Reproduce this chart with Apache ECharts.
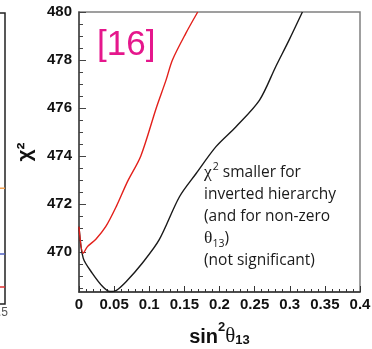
<!DOCTYPE html>
<html><head><meta charset="utf-8">
<script src="https://cdn.jsdelivr.net/npm/echarts@6/dist/echarts.min.js"></script>
<style>html,body{margin:0;padding:0;background:#fff}#c{width:372px;height:349px}</style>
</head><body><div id="c"></div>
<script>
// sin^2(theta13) vs chi^2 — normal (black) and inverted (red) hierarchy
const redS  = [0, 0.006, 0.012, 0.024, 0.038, 0.053, 0.069, 0.088, 0.110, 0.124, 0.133, 0.152, 0.169];
const redV  = [471.05, 469.94, 470.22, 470.53, 471.05, 471.89, 472.93, 474.0, 476.0, 477.17, 478.0, 479.11, 480.0];
const blackS = [0, 0.006, 0.019, 0.034, 0.044, 0.0527, 0.067, 0.090, 0.114, 0.143, 0.167, 0.195, 0.2235, 0.257, 0.280, 0.299, 0.318];
const blackV = [471.05, 469.74, 469.11, 468.55, 468.35, 468.39, 468.76, 469.53, 470.5, 472.3, 473.28, 474.39, 475.22, 476.33, 477.72, 478.83, 480.0];
const yMajorTicks = [470, 472, 474, 476, 478, 480];
const yMinorTicks = [468.5, 469, 469.5, 470.5, 471, 471.5, 472.5, 473, 473.5, 474.5, 475, 475.5, 476.5, 477, 477.5, 478.5, 479, 479.5];
// stubs of the neighbouring (cropped) plot at the left edge
const leftStubs = [
  {color: '#f0a050', y: 16.7},
  {color: '#5060c0', y: 7.2},
  {color: '#e03030', y: 2.45}
];
const leftStubX = [1.47, 1.54];

const pair = (xs, ys) => xs.map((x, i) => [x, ys[i]]);
const chart = echarts.init(document.getElementById('c'), null, {renderer: 'canvas'});
const FF = '"Liberation Sans", Arial, sans-serif';

chart.setOption({
  animation: false,
  grid: [
    {left: 79, right: 12, top: 12, bottom: 57, show: true, borderColor: '#808080', borderWidth: 1.5,
     outerBoundsMode: 'none', containLabel: false},
    {left: -200, right: 367, top: 13, height: 291, show: true, borderColor: '#222', borderWidth: 1.5,
     outerBoundsMode: 'none', containLabel: false}
  ],
  xAxis: [
    {type: 'value', gridIndex: 0, min: 0, max: 0.4, interval: 0.05,
     axisLine: {lineStyle: {color: '#333', width: 1.5}},
     axisTick: {inside: true, length: 6, lineStyle: {color: '#333'}},
     minorTick: {show: true, splitNumber: 5, length: 3, lineStyle: {color: '#333'}},
     splitLine: {show: false},
     axisLabel: {fontFamily: FF, fontWeight: 'bold', fontSize: 15, color: '#111', margin: 5,
       formatter: v => String(Math.round(v * 100) / 100)},
     name: '{a|sin}{sup|2}{g|θ}{sub|13}', nameLocation: 'middle', nameGap: 29,
     nameTextStyle: {rich: {
       a: {fontFamily: FF, fontWeight: 'bold', fontSize: 20, color: '#111', lineHeight: 26, verticalAlign: 'bottom'},
       sup: {fontFamily: FF, fontWeight: 'bold', fontSize: 13, color: '#111', lineHeight: 17, verticalAlign: 'top'},
       g: {fontFamily: '"Liberation Serif", serif', fontSize: 21, color: '#111', lineHeight: 26, verticalAlign: 'bottom'},
       sub: {fontFamily: FF, fontWeight: 'bold', fontSize: 13, color: '#111', lineHeight: 12, verticalAlign: 'bottom'}
     }}},
    {type: 'value', gridIndex: 1, min: 0, max: 1.5405, interval: 0.5,
     axisLine: {show: false}, axisTick: {show: false}, splitLine: {show: false},
     axisLabel: {fontFamily: FF, fontSize: 12, color: '#555', margin: 3, showMaxLabel: false,
       formatter: v => (Math.abs(v - 1.5) < 1e-6 ? '1.5' : '')}}
  ],
  yAxis: [
    {type: 'value', gridIndex: 0, min: 468.33, max: 480,
     axisLine: {show: true, lineStyle: {color: '#444', width: 1.5}},
     axisTick: {show: true, inside: true, length: 7, customValues: yMajorTicks, lineStyle: {color: '#444'}},
     splitLine: {show: false},
     axisLabel: {customValues: yMajorTicks, fontFamily: FF, fontWeight: 'bold', fontSize: 15, color: '#111', margin: 7},
     name: 'χ²', nameLocation: 'middle', nameGap: 43,
     nameTextStyle: {fontFamily: FF, fontWeight: 'bold', fontSize: 21, color: '#111'}},
    {type: 'value', gridIndex: 0, min: 468.33, max: 480, position: 'left',
     axisLine: {show: false},
     axisTick: {show: true, inside: true, length: 4, customValues: yMinorTicks, lineStyle: {color: '#444'}},
     axisLabel: {show: false}, splitLine: {show: false}},
    {type: 'value', gridIndex: 1, min: 0, max: 42, interval: 1, position: 'right',
     axisLine: {show: true, lineStyle: {color: '#222', width: 1.5}},
     axisTick: {inside: true, length: 4, lineStyle: {color: '#222'}},
     axisLabel: {show: false}, splitLine: {show: false}}
  ],
  graphic: [
    {type: 'text', left: 97, top: 28, style: {text: '[16]', fontFamily: FF, fontSize: 35, fill: '#e5178c'}},
    {type: 'text', left: 204, top: 162, style: {
      text: '{g|χ}{sup|2}{t| smaller for}\n{t|inverted hierarchy}\n{t|(and for non-zero}\n{g|θ}{sub|13}{t|)}\n{t|(not significant)}',
      rich: {
        t: {fontFamily: '"Open Sans", sans-serif', fontSize: 15.5, fill: '#1a1a1a', lineHeight: 21.8, verticalAlign: 'middle'},
        g: {fontFamily: '"Liberation Serif", serif', fontSize: 17.5, fill: '#1a1a1a', lineHeight: 21.8, verticalAlign: 'middle'},
        sup: {fontFamily: '"Open Sans", sans-serif', fontSize: 10.5, fill: '#1a1a1a', lineHeight: 13, verticalAlign: 'top', padding: [0, 0, 0, 1]},
        sub: {fontFamily: '"Open Sans", sans-serif', fontSize: 10.5, fill: '#1a1a1a', lineHeight: 10, verticalAlign: 'bottom'}
      }}}
  ],
  series: [
    {type: 'line', xAxisIndex: 0, yAxisIndex: 0, data: pair(blackS, blackV), showSymbol: false, smooth: 0.3,
     lineStyle: {color: '#1a1a1a', width: 1.4}, z: 3},
    {type: 'line', xAxisIndex: 0, yAxisIndex: 0, data: pair(redS, redV), showSymbol: false, smooth: 0.3,
     lineStyle: {color: '#e3201b', width: 1.4}, z: 4},
    ...leftStubs.map(s => ({type: 'line', xAxisIndex: 1, yAxisIndex: 2, showSymbol: false,
      data: leftStubX.map(x => [x, s.y]), lineStyle: {color: s.color, width: 1.5}}))
  ]
});
</script>
</body></html>
